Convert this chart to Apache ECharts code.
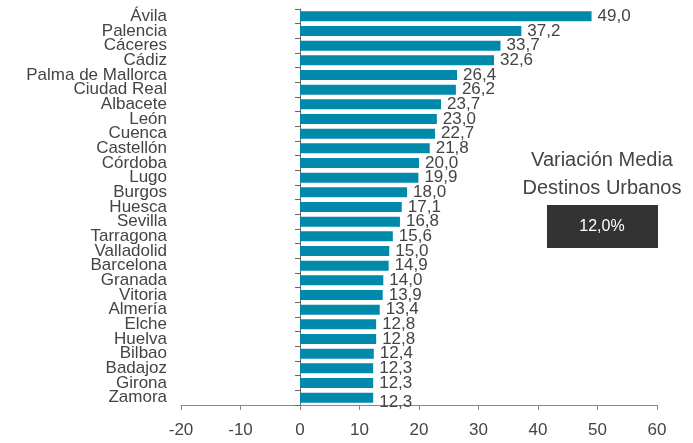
<!DOCTYPE html>
<html>
<head>
<meta charset="utf-8">
<script src="https://cdn.jsdelivr.net/npm/echarts@6/dist/echarts.min.js"></script>
<style>
  html, body { margin: 0; padding: 0; background: #fff; }
  #chart { width: 693px; height: 443px; }
</style>
</head>
<body>
<div id="chart"></div>
<script>
// Ciudades, de arriba abajo
const cities = [
  'Ávila', 'Palencia', 'Cáceres', 'Cádiz', 'Palma de Mallorca', 'Ciudad Real',
  'Albacete', 'León', 'Cuenca', 'Castellón', 'Córdoba', 'Lugo', 'Burgos',
  'Huesca', 'Sevilla', 'Tarragona', 'Valladolid', 'Barcelona', 'Granada',
  'Vitoria', 'Almería', 'Elche', 'Huelva', 'Bilbao', 'Badajoz', 'Girona', 'Zamora'
]
const variation = [
  49.0, 37.2, 33.7, 32.6, 26.4, 26.2, 23.7, 23.0, 22.7, 21.8, 20.0, 19.9, 18.0,
  17.1, 16.8, 15.6, 15.0, 14.9, 14.0, 13.9, 13.4, 12.8, 12.8, 12.4, 12.3, 12.3, 12.3
]
const averageLabel = ['Variación Media', 'Destinos Urbanos']
const averageValue = 12.0

const fmt = (v) => v.toFixed(1).replace('.', ',')
const font = 'Liberation Sans, Helvetica, Arial, sans-serif'
const textColor = '#444'

const chart = echarts.init(document.getElementById('chart'))

const boxText = (y, text, color, size) => ({
  type: 'text',
  style: {
    x: 602,
    y: y,
    text: text,
    fill: color,
    font: size + 'px ' + font,
    textAlign: 'center',
    textVerticalAlign: 'middle'
  }
})

chart.setOption({
  animation: false,
  grid: { left: 181, right: 36, top: 9, bottom: 38, outerBoundsMode: 'none', containLabel: false },
  xAxis: {
    type: 'value',
    min: -20,
    max: 60,
    interval: 10,
    splitLine: { show: false },
    axisLine: { show: true, lineStyle: { color: '#888', width: 1 } },
    axisTick: { show: true, length: 5, lineStyle: { color: '#888' } },
    axisLabel: { color: textColor, fontSize: 17, fontFamily: font, margin: 17 }
  },
  yAxis: {
    type: 'category',
    inverse: true,
    data: cities,
    axisLine: { show: true, onZero: true, lineStyle: { color: '#666', width: 1 } },
    axisTick: { show: true, length: 5, lineStyle: { color: '#666' } },
    axisLabel: {
      color: textColor,
      fontSize: 17,
      fontFamily: font,
      margin: 14,
      interval: 0
    }
  },
  series: [
    {
      type: 'bar',
      barWidth: '68%',
      data: variation.map((v, i) => ({
        value: v,
        label: i === variation.length - 1 ? { offset: [0, 5] } : undefined
      })),
      itemStyle: { color: '#0089ab' },
      label: {
        show: true,
        position: 'right',
        distance: 6,
        color: textColor,
        fontSize: 17,
        fontFamily: font,
        formatter: (p) => fmt(p.value)
      }
    }
  ],
  graphic: [
    boxText(160, averageLabel[0], textColor, 20),
    boxText(188, averageLabel[1], textColor, 20),
    {
      type: 'rect',
      shape: { x: 547, y: 205, width: 111, height: 43 },
      style: { fill: '#333333' }
    },
    boxText(227, fmt(averageValue) + '%', '#fff', 16)
  ]
})
</script>
</body>
</html>
